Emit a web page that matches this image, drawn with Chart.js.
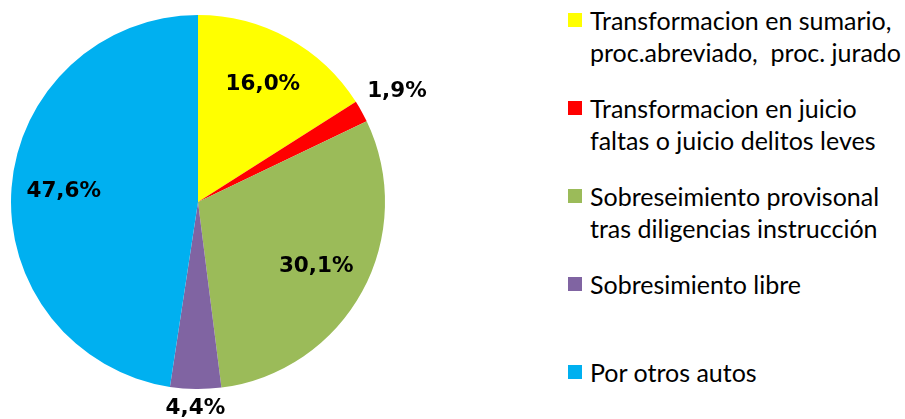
<!DOCTYPE html>
<html>
<head>
<meta charset="utf-8">
<script src="https://cdn.jsdelivr.net/npm/chart.js@4/dist/chart.umd.min.js"></script>
<style>
  html,body{margin:0;padding:0;background:#fff;}
  #wrap{position:relative;width:905px;height:419px;overflow:hidden;}
  #pieChart{position:absolute;left:0;top:0;}
  #legend{position:absolute;left:568px;top:4px;font-family:Lato,"Open Sans",sans-serif;font-size:25px;color:#000;}
  .lg-item{position:relative;height:88px;padding-left:22px;line-height:32px;white-space:pre;}
  .lg-box{position:absolute;left:0;top:9px;width:14px;height:14px;}
</style>
</head>
<body>
<div id="wrap">
  <canvas id="pieChart" width="560" height="419"></canvas>
  <div id="legend"></div>
</div>
<script>
/* ── DATA ───────────────────────────────────────────────── */
const categories = [
  ['Transformacion en sumario,', 'proc.abreviado,  proc. jurado'],
  ['Transformacion en juicio', 'faltas o juicio delitos leves'],
  ['Sobreseimiento provisonal', 'tras diligencias instrucción'],
  ['Sobresimiento libre'],
  ['Por otros autos']
];
const shares = [16.0, 1.9, 30.1, 4.4, 47.6];
const sliceColors = ['#FFFF00','#FF0000','#9BBB59','#8064A2','#00B0F0'];

const fmt = v => v.toFixed(1).replace('.', ',') + '%';

/* ── LABELS ON / NEAR SLICES ────────────────────────────── */
const sliceLabels = {
  id:'sliceLabels',
  afterDatasetsDraw(chart){
    const ctx = chart.ctx;
    const meta = chart.getDatasetMeta(0);
    ctx.save();
    ctx.font = 'bold 21.5px "DejaVu Sans", Verdana, sans-serif';
    ctx.fillStyle = '#000';
    ctx.textAlign = 'center';
    ctx.textBaseline = 'middle';
    meta.data.forEach((arc, i) => {
      const p = arc.getProps(['x','y','startAngle','endAngle','outerRadius'], true);
      const mid = (p.startAngle + p.endAngle) / 2;
      const text = fmt(shares[i]);
      let r = p.outerRadius * 0.72;
      if(shares[i] < 5){
        // small slices: label sits just outside the rim
        const hw = ctx.measureText(text).width / 2, hh = 9;
        r = p.outerRadius + 10 + hw * Math.abs(Math.cos(mid)) + hh * Math.abs(Math.sin(mid));
      }
      ctx.fillText(text, p.x + Math.cos(mid) * r, p.y + Math.sin(mid) * r);
    });
    ctx.restore();
  }
};

new Chart(document.getElementById('pieChart'), {
  type:'pie',
  data:{
    labels:categories,
    datasets:[{ data:shares, backgroundColor:sliceColors, borderWidth:0 }]
  },
  options:{
    responsive:false, animation:false,
    layout:{padding:{left:11, right:175, top:15, bottom:30}},
    plugins:{legend:{display:false}, tooltip:{enabled:false}}
  },
  plugins:[sliceLabels]
});

/* ── HTML LEGEND ────────────────────────────────────────── */
document.getElementById('legend').innerHTML = categories.map((lines, i) =>
  `<div class="lg-item"><span class="lg-box" style="background:${sliceColors[i]}"></span>${lines.join('\n')}</div>`).join('');
</script>
</body>
</html>
